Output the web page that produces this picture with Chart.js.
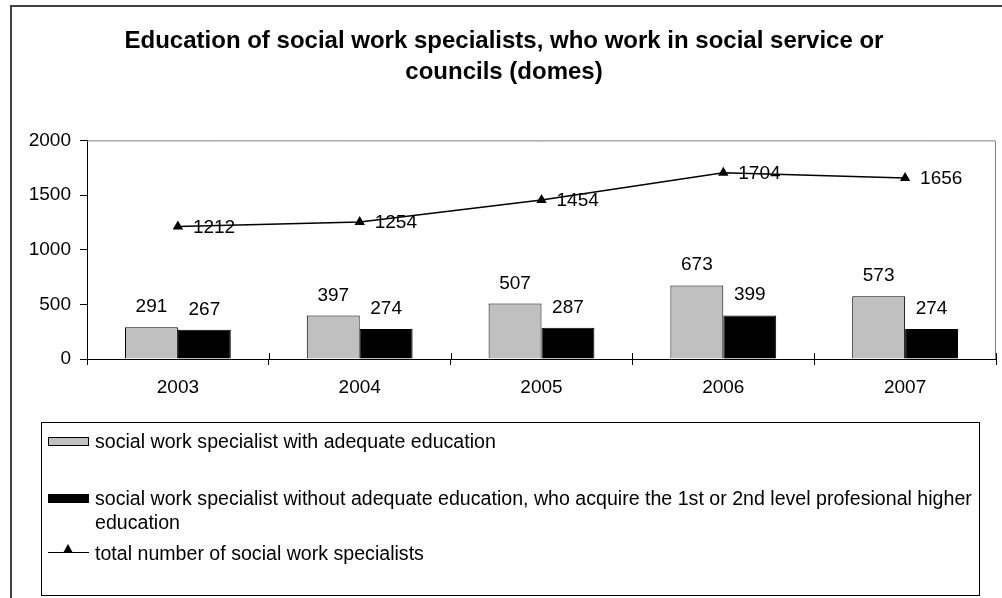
<!DOCTYPE html>
<html>
<head>
<meta charset="utf-8">
<title>Education of social work specialists</title>
<script src="https://cdn.jsdelivr.net/npm/chart.js@4/dist/chart.umd.min.js"></script>
<style>
  body { margin: 0; background: #fff; font-family: "Liberation Sans", Arial, sans-serif; }
  #wrap { position: relative; width: 1002px; height: 598px; overflow: hidden; background: #fff; }
  #frame { position: absolute; left: 10px; top: 5px; width: 1000px; height: 600px; border: 2px solid #404040; }
  #chart { position: absolute; left: 0; top: 0; }
  #legend { position: absolute; left: 41px; top: 422px; width: 937px; height: 172px; border: 1px solid #000; background: #fff; }
  .item { position: absolute; left: 6px; width: 935px; font-size: 19.6px; line-height: 24px; color: #000; }
  .key { position: absolute; left: 0; top: 8px; width: 41px; height: 9px; box-sizing: border-box; }
  .key.line { height: 0; top: 11px; border-top: 1.5px solid #000; }
  .key.line::after { content: ""; position: absolute; left: 15px; top: -9px; border-left: 5.5px solid transparent; border-right: 5.5px solid transparent; border-bottom: 9px solid #000; }
  .txt { margin-left: 47px; }
</style>
</head>
<body>
<div id="wrap">
  <div id="frame"></div>
  <canvas id="chart" width="1002" height="598"></canvas>
  <div id="legend"></div>
</div>
<script>
const years = ["2003", "2004", "2005", "2006", "2007"];
const withEducation = [291, 397, 507, 673, 573];
const withoutEducation = [267, 274, 287, 399, 274];
const totalSpecialists = [1212, 1254, 1454, 1704, 1656];
const seriesNames = [
  "social work specialist with adequate education",
  "social work specialist without adequate education, who acquire the 1st or 2nd level profesional higher education",
  "total number of social work specialists"
];
const yTicks = [0, 500, 1000, 1500, 2000];

const FONT = '"Liberation Sans", Arial, sans-serif';

// gray frame on top/right of the plot + small inward ticks on the category axis
const plotFrame = {
  id: 'plotFrame',
  beforeDatasetsDraw(chart) {
    const { ctx, chartArea: a } = chart;
    ctx.save();
    ctx.strokeStyle = '#808080';
    ctx.lineWidth = 1;
    ctx.beginPath();
    ctx.moveTo(a.left, a.top + 0.5);
    ctx.lineTo(a.right - 0.5, a.top + 0.5);
    ctx.lineTo(a.right - 0.5, a.bottom);
    ctx.stroke();
    const x = chart.scales.x;
    const step = x.width / years.length;
    ctx.strokeStyle = '#000';
    ctx.beginPath();
    for (let k = 1; k <= years.length; k++) {
      const px = Math.round(x.left + k * step) + 0.5;
      ctx.moveTo(px, a.bottom - 6);
      ctx.lineTo(px, a.bottom);
    }
    ctx.stroke();
    ctx.restore();
  }
};

// numbers over the bars and next to the line points
const valueLabels = {
  id: 'valueLabels',
  afterDatasetsDraw(chart) {
    const ctx = chart.ctx;
    ctx.save();
    ctx.font = '19px ' + FONT;
    ctx.fillStyle = '#000';
    ctx.textBaseline = 'alphabetic';
    chart.data.datasets.forEach((ds, i) => {
      const meta = chart.getDatasetMeta(i);
      meta.data.forEach((el, j) => {
        if (ds.type === 'line') {
          ctx.textAlign = 'left';
          ctx.fillText(ds.data[j], el.x + 15, el.y + 6);
        } else {
          ctx.textAlign = 'center';
          ctx.fillText(ds.data[j], el.x, el.y - 15);
        }
      });
    });
    ctx.restore();
  }
};

const chart = new Chart(document.getElementById('chart'), {
  type: 'bar',
  data: {
    labels: years,
    datasets: [
      {
        type: 'line',
        label: seriesNames[2],
        data: totalSpecialists,
        borderColor: '#000',
        borderWidth: 1.5,
        backgroundColor: '#000',
        pointStyle: 'triangle',
        pointRadius: 6,
        pointBorderWidth: 0,
        tension: 0,
        fill: false,
        order: 0
      },
      {
        label: seriesNames[0],
        data: withEducation,
        backgroundColor: '#c0c0c0',
        borderColor: '#000',
        borderWidth: 1,
        order: 1
      },
      {
        label: seriesNames[1],
        data: withoutEducation,
        backgroundColor: '#000',
        borderColor: '#000',
        borderWidth: 1,
        order: 1
      }
    ]
  },
  options: {
    responsive: false,
    animation: false,
    categoryPercentage: 0.582,
    barPercentage: 1,
    layout: { padding: { left: 11, right: 5, top: 0, bottom: 199 } },
    plugins: {
      legend: { display: false },
      tooltip: { enabled: false },
      title: {
        display: true,
        text: ['Education of social work specialists, who work in social service or', 'councils (domes)'],
        color: '#000',
        font: { family: FONT, size: 24, weight: 'bold', lineHeight: 1.3 },
        padding: { top: 26, bottom: 52 }
      }
    },
    scales: {
      x: {
        grid: { offset: true, drawOnChartArea: false, color: '#000', tickLength: 6 },
        border: { color: '#000', width: 1 },
        ticks: { color: '#000', padding: 11, font: { family: FONT, size: 19 } },
        afterFit(s) { s.height = 40; }
      },
      y: {
        min: 0,
        max: 2000,
        afterBuildTicks(s) { s.ticks = yTicks.map(v => ({ value: v })); },
        grid: { drawOnChartArea: false, color: '#000', tickLength: 7 },
        border: { color: '#000', width: 1 },
        ticks: { color: '#000', padding: 9, font: { family: FONT, size: 19 }, callback: v => String(v) },
        afterFit(s) { s.width = 76; }
      }
    }
  },
  plugins: [plotFrame, valueLabels]
});

// legend box below the plot, built from the chart's datasets
const legendTops = [6, 63, 118];
const legendOrder = [1, 2, 0];
const legendBox = document.getElementById('legend');
legendOrder.forEach((di, n) => {
  const ds = chart.data.datasets[di];
  const item = document.createElement('div');
  item.className = 'item';
  item.style.top = legendTops[n] + 'px';
  const key = document.createElement('span');
  if (ds.type === 'line') {
    key.className = 'key line';
  } else {
    key.className = 'key';
    key.style.background = ds.backgroundColor;
    key.style.border = '1px solid ' + ds.borderColor;
  }
  const txt = document.createElement('div');
  txt.className = 'txt';
  txt.textContent = ds.label;
  item.appendChild(key);
  item.appendChild(txt);
  legendBox.appendChild(item);
});
</script>
</body>
</html>
